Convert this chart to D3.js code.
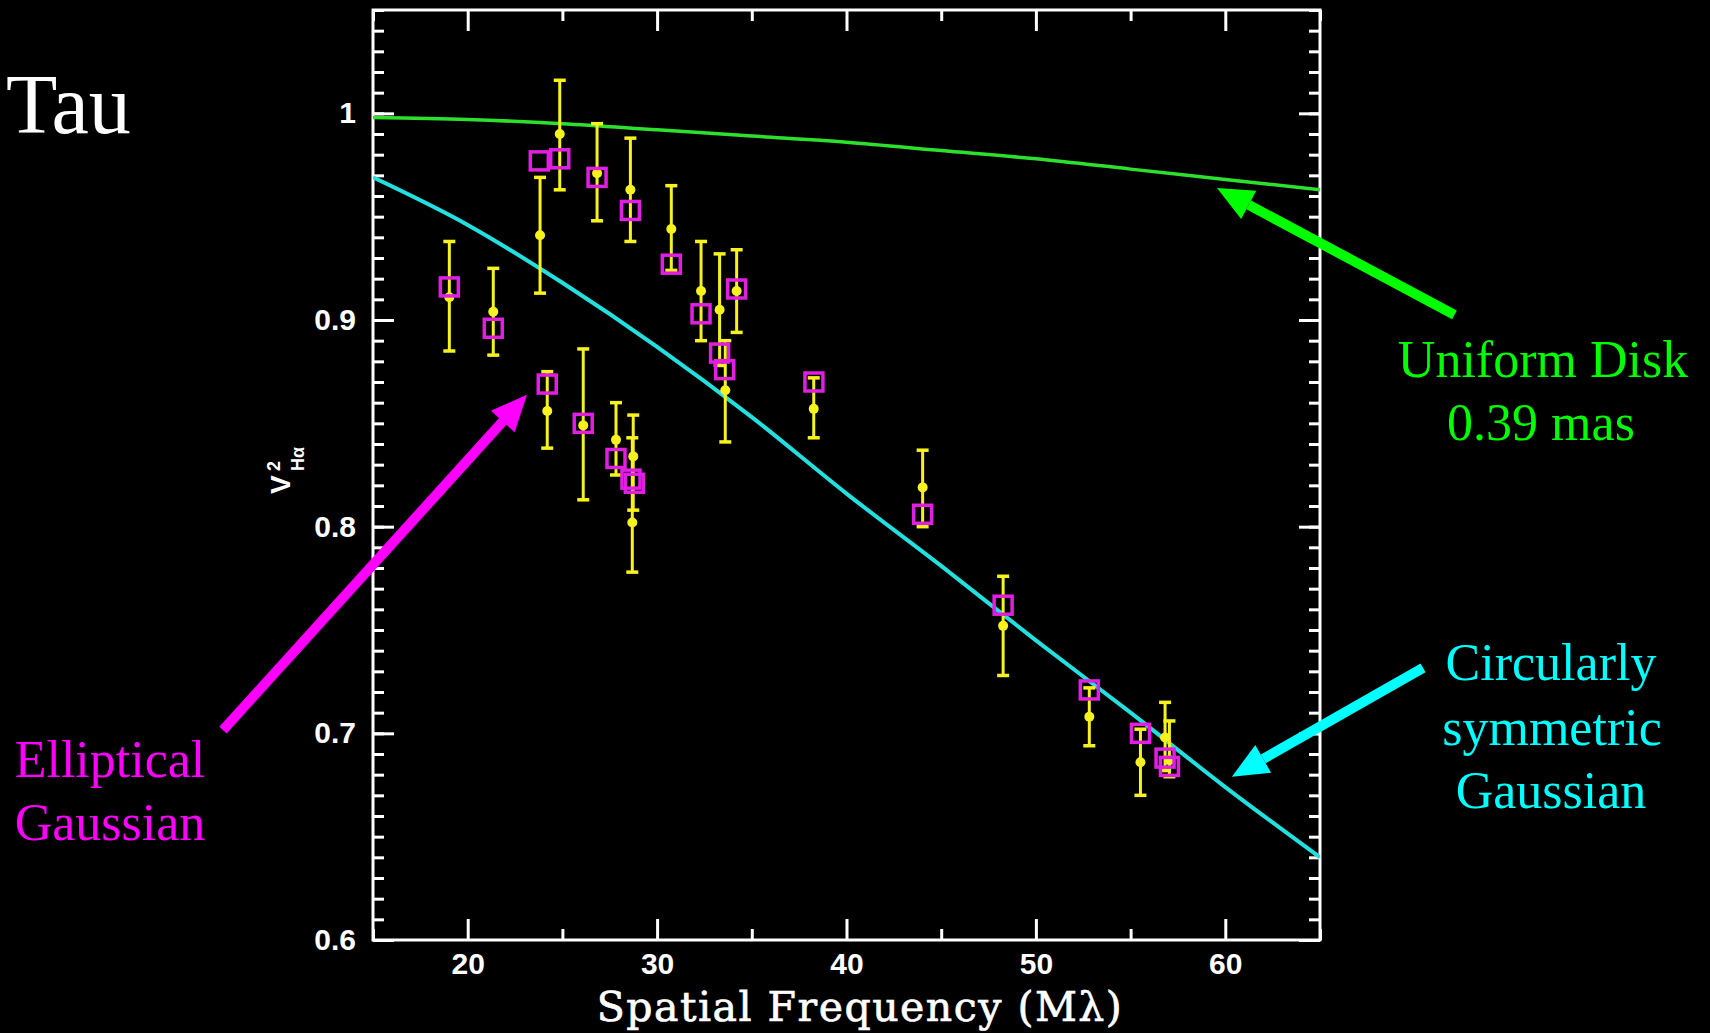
<!DOCTYPE html>
<html>
<head>
<meta charset="utf-8">
<script src="https://cdn.jsdelivr.net/npm/d3@7"></script>
<style>
  html, body { margin: 0; padding: 0; background: #000; }
  svg { display: block; }
</style>
</head>
<body>
<svg id="chart" width="1710" height="1033"></svg>
<script>
// Hα squared visibilities versus spatial frequency
const freq  = [19.03, 21.35, 23.82, 24.86, 26.83, 28.59, 30.75, 32.32, 33.30, 33.60, 34.20, 38.27,
               24.20, 26.10, 27.83, 28.74, 28.69, 44.02, 48.27, 52.82, 55.52, 56.82, 57.05];
const v2    = [0.911, 0.904, 0.941, 0.990, 0.971, 0.963, 0.944, 0.914, 0.905, 0.866, 0.914, 0.857,
               0.856, 0.849, 0.842, 0.834, 0.802, 0.819, 0.752, 0.708, 0.686, 0.698, 0.687];
const errLo = [0.885, 0.883, 0.913, 0.963, 0.948, 0.938, 0.924, 0.890, 0.878, 0.841, 0.894, 0.843,
               0.838, 0.813, 0.825, 0.808, 0.778, 0.800, 0.728, 0.694, 0.670, 0.682, 0.679];
const errHi = [0.938, 0.925, 0.969, 1.016, 0.995, 0.988, 0.965, 0.938, 0.932, 0.890, 0.934, 0.872,
               0.875, 0.886, 0.860, 0.854, 0.843, 0.837, 0.776, 0.722, 0.702, 0.715, 0.706];

// Elliptical Gaussian model at the same baselines
const modelFreq = [19.03, 21.35, 23.78, 24.86, 26.83, 28.59, 30.75, 32.32, 33.30, 33.57, 34.20, 38.28,
                   24.20, 26.10, 27.83, 28.62, 28.80, 44.02, 48.27, 52.82, 55.52, 56.82, 57.05];
const modelV2   = [0.916, 0.896, 0.977, 0.978, 0.969, 0.953, 0.927, 0.903, 0.884, 0.876, 0.915, 0.870,
                   0.869, 0.850, 0.833, 0.823, 0.821, 0.806, 0.762, 0.721, 0.700, 0.688, 0.684];

// Uniform disk (0.39 mas) and circularly symmetric Gaussian model curves
const curveFreq     = [15, 20, 25, 30, 35, 40, 45, 50, 55, 60, 65];
const uniformDiskV2 = [0.998, 0.997, 0.995, 0.992, 0.989, 0.986, 0.982, 0.978, 0.973, 0.968, 0.963];
const circGaussV2   = [0.969, 0.946, 0.918, 0.887, 0.853, 0.816, 0.781, 0.745, 0.710, 0.674, 0.640];

// Axis ticks
const xMajorTicks = [20, 30, 40, 50, 60];
const xMinorTicks = [15, 25, 35, 45, 55, 65];
const yMajorTicks = [0.6, 0.7, 0.8, 0.9, 1];
const yMinorTicks = d3.range(60, 106).map(d => d / 100);

const svg = d3.select("#chart");
const L = 373, R = 1320, T = 10, B = 940;

const x = d3.scaleLinear().domain([15, 65]).range([L, R]);
const y = d3.scaleLinear().domain([0.6, 1.05]).range([B, T]);

svg.append("rect").attr("width", 1710).attr("height", 1033).attr("fill", "#000");

svg.append("defs").append("clipPath").attr("id", "plotClip")
  .append("rect").attr("x", L).attr("y", T).attr("width", R - L).attr("height", B - T);

// Axes: ticks point inward on all four sides
const tickFont = "'Liberation Sans', Arial, sans-serif";
function styleAxis(g, labels) {
  g.select(".domain").remove();
  g.selectAll(".tick line").attr("stroke", "#fff").attr("stroke-width", 3);
  if (labels) {
    g.selectAll(".tick text").attr("fill", "#fff").attr("font-family", tickFont)
      .attr("font-weight", "bold").attr("font-size", 30);
  } else {
    g.selectAll(".tick text").remove();
  }
}
const fmt = d => d3.format("~g")(d);

svg.append("g").attr("transform", `translate(0,${B})`)
  .call(d3.axisBottom(x).tickValues(xMajorTicks).tickSize(-21).tickPadding(13).tickFormat(fmt))
  .call(g => styleAxis(g, true));
svg.append("g").attr("transform", `translate(0,${B})`)
  .call(d3.axisBottom(x).tickValues(xMinorTicks).tickSize(-11))
  .call(g => styleAxis(g, false));
svg.append("g").attr("transform", `translate(0,${T})`)
  .call(d3.axisTop(x).tickValues(xMajorTicks).tickSize(-21))
  .call(g => styleAxis(g, false));
svg.append("g").attr("transform", `translate(0,${T})`)
  .call(d3.axisTop(x).tickValues(xMinorTicks).tickSize(-11))
  .call(g => styleAxis(g, false));

svg.append("g").attr("transform", `translate(${L},0)`)
  .call(d3.axisLeft(y).tickValues(yMajorTicks).tickSize(-21).tickPadding(17).tickFormat(fmt))
  .call(g => styleAxis(g, true));
svg.append("g").attr("transform", `translate(${L},0)`)
  .call(d3.axisLeft(y).tickValues(yMinorTicks).tickSize(-11))
  .call(g => styleAxis(g, false));
svg.append("g").attr("transform", `translate(${R},0)`)
  .call(d3.axisRight(y).tickValues(yMajorTicks).tickSize(-21))
  .call(g => styleAxis(g, false));
svg.append("g").attr("transform", `translate(${R},0)`)
  .call(d3.axisRight(y).tickValues(yMinorTicks).tickSize(-11))
  .call(g => styleAxis(g, false));

// Frame
svg.append("rect").attr("x", L).attr("y", T).attr("width", R - L).attr("height", B - T)
  .attr("fill", "none").attr("stroke", "#fff").attr("stroke-width", 3);

// Model curves
const plot = svg.append("g").attr("clip-path", "url(#plotClip)");
const line = d3.line().x(d => x(d[0])).y(d => y(d[1])).curve(d3.curveMonotoneX);
plot.append("path").datum(d3.zip(curveFreq, uniformDiskV2)).attr("d", line)
  .attr("fill", "none").attr("stroke", "#2ee02e").attr("stroke-width", 3.5);
plot.append("path").datum(d3.zip(curveFreq, circGaussV2)).attr("d", line)
  .attr("fill", "none").attr("stroke", "#22e0e0").attr("stroke-width", 4);

// Measurements with error bars
const yellow = "#f7f21e";
const pts = freq.map((f, i) => ({ f, v: v2[i], lo: errLo[i], hi: errHi[i] }));
const eb = plot.append("g");
eb.selectAll("line.bar").data(pts).join("line").attr("class", "bar")
  .attr("x1", d => x(d.f)).attr("x2", d => x(d.f))
  .attr("y1", d => y(d.lo)).attr("y2", d => y(d.hi))
  .attr("stroke", yellow).attr("stroke-width", 3);
["lo", "hi"].forEach(k => {
  eb.selectAll("line.cap" + k).data(pts).join("line").attr("class", "cap" + k)
    .attr("x1", d => x(d.f) - 6).attr("x2", d => x(d.f) + 6)
    .attr("y1", d => y(d[k])).attr("y2", d => y(d[k]))
    .attr("stroke", yellow).attr("stroke-width", 3.5);
});
eb.selectAll("circle").data(pts).join("circle")
  .attr("cx", d => x(d.f)).attr("cy", d => y(d.v)).attr("r", 5).attr("fill", yellow);

// Elliptical Gaussian model squares
const sq = 18;
plot.append("g").selectAll("rect").data(d3.zip(modelFreq, modelV2)).join("rect")
  .attr("x", d => x(d[0]) - sq / 2).attr("y", d => y(d[1]) - sq / 2)
  .attr("width", sq).attr("height", sq)
  .attr("fill", "none").attr("stroke", "#e01fe0").attr("stroke-width", 3.5);

// Annotation arrows (positions in data units)
function arrow(from, to, color) {
  const x0 = x(from[0]), y0 = y(from[1]), x1 = x(to[0]), y1 = y(to[1]);
  const ang = Math.atan2(y1 - y0, x1 - x0);
  const hl = 36, hw = 16;
  const bx = x1 - hl * Math.cos(ang), by = y1 - hl * Math.sin(ang);
  svg.append("line").attr("x1", x0).attr("y1", y0).attr("x2", bx).attr("y2", by)
    .attr("stroke", color).attr("stroke-width", 10);
  const px = -Math.sin(ang) * hw, py = Math.cos(ang) * hw;
  svg.append("polygon")
    .attr("points", [[x1, y1], [bx + px, by + py], [bx - px, by - py]].map(p => p.join(",")).join(" "))
    .attr("fill", color);
}
arrow([72.1, 0.9025], [59.56, 0.9639], "#00ff00");
arrow([70.44, 0.7317], [60.35, 0.679], "#00ffff");
arrow([7.08, 0.7016], [23.13, 0.8638], "#ff00ff");

// Text labels
const serif = "'Liberation Serif', 'Times New Roman', serif";
function label(txt, cx, by, color, size, anchor) {
  svg.append("text").attr("x", cx).attr("y", by).attr("fill", color)
    .attr("font-family", serif).attr("font-size", size)
    .attr("text-anchor", anchor || "middle").text(txt);
}
label("Tau", 6, 133, "#fff", 84, "start");
label("Uniform Disk", 1543, 377, "#00ff00", 52);
label("0.39 mas", 1541, 440, "#00ff00", 52);
label("Circularly", 1551, 680, "#00ffff", 52);
label("symmetric", 1552, 745, "#00ffff", 52);
label("Gaussian", 1551, 808, "#00ffff", 52);
label("Elliptical", 110, 777, "#ff00ff", 52);
label("Gaussian", 110, 840, "#ff00ff", 52);

// Axis titles
svg.append("text").attr("x", 860).attr("y", 1021).attr("fill", "#fff")
  .attr("stroke", "#fff").attr("stroke-width", 0.7)
  .attr("font-family", "'DejaVu Serif', serif").attr("font-size", 41)
  .attr("letter-spacing", 1.5)
  .attr("text-anchor", "middle").text("Spatial Frequency (Mλ)");

const yt = svg.append("g").attr("transform", "translate(290,494) rotate(-90)")
  .attr("fill", "#fff").attr("font-family", tickFont).attr("font-weight", "bold");
yt.append("text").attr("x", 0).attr("y", 0).attr("font-size", 28).text("V");
yt.append("text").attr("x", 23).attr("y", -10).attr("font-size", 18).text("2");
yt.append("text").attr("x", 23).attr("y", 14).attr("font-size", 18).text("Hα");
</script>
</body>
</html>
